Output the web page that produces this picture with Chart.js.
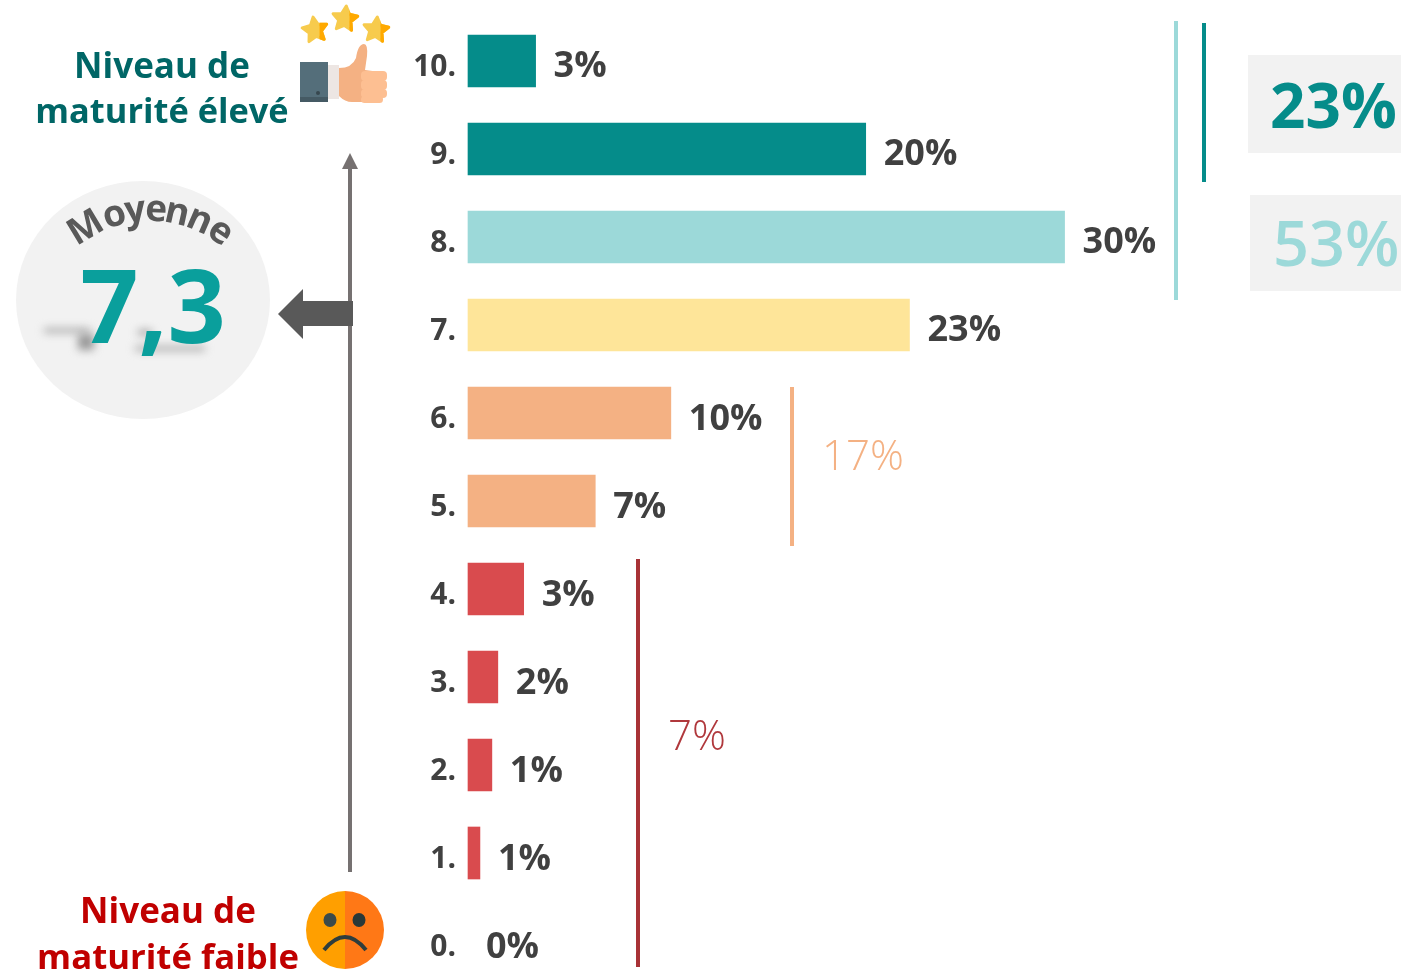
<!DOCTYPE html>
<html>
<head>
<meta charset="utf-8">
<title>Niveau de maturité</title>
<script src="https://cdn.jsdelivr.net/npm/chart.js@4"></script>
<style>
  html, body { margin: 0; padding: 0; background: #fff; }
  canvas { display: block; }
</style>
</head>
<body>
<canvas id="maturityChart" width="1401" height="971"></canvas>
<script>
const categories = ['10.', '9.', '8.', '7.', '6.', '5.', '4.', '3.', '2.', '1.', '0.'];
const barValues = [3.4, 20, 30, 22.2, 10.2, 6.4, 2.8, 1.5, 1.2, 0.6, 0];
const valueLabels = ['3%', '20%', '30%', '23%', '10%', '7%', '3%', '2%', '1%', '1%', '0%'];
const groupLabels = ['23%', '53%', '17%', '7%'];
const averageLabel = '7,3';

const TEAL = '#058c8a', AQUA = '#9cd9d9', YELLOW = '#fee599', ORANGE = '#f4b183', RED = '#d94b4e';
const FONT = '"Open Sans"';

function rect(ctx, color, x, y, w, h) {
  ctx.fillStyle = color;
  ctx.fillRect(x, y, w, h);
}

function text(ctx, str, x, y, font, color, align) {
  ctx.font = font;
  ctx.fillStyle = color;
  ctx.textAlign = align || 'left';
  ctx.textBaseline = 'alphabetic';
  ctx.fillText(str, x, y);
}

function poly(ctx, color, pts) {
  ctx.fillStyle = color;
  ctx.beginPath();
  pts.forEach((p, i) => i ? ctx.lineTo(p[0], p[1]) : ctx.moveTo(p[0], p[1]));
  ctx.closePath();
  ctx.fill();
}

function star(ctx, cx, cy, r, rot) {
  const pts = [];
  for (let i = 0; i < 10; i++) {
    const a = rot - Math.PI / 2 + i * Math.PI / 5;
    const d = i % 2 ? r * 0.5 : r;
    pts.push([cx + Math.cos(a) * d, cy + Math.sin(a) * d]);
  }
  ctx.lineJoin = 'round';
  ctx.lineWidth = 3;
  ctx.strokeStyle = '#f7cb4d';
  poly(ctx, '#f7cb4d', pts);
  ctx.stroke();
  // darker right side
  ctx.save();
  ctx.beginPath();
  ctx.rect(cx + r * 0.35, cy - r, r, r * 2);
  ctx.clip();
  ctx.strokeStyle = '#ffa900';
  poly(ctx, '#ffa900', pts);
  ctx.stroke();
  ctx.restore();
}

function drawThumb(ctx) {
  star(ctx, 315, 30, 13, -0.15);
  star(ctx, 345, 19, 13, 0.1);
  star(ctx, 376, 30, 13, 0.1);
  rect(ctx, '#546e7a', 300, 62, 28, 40);
  rect(ctx, '#455a64', 300, 97, 28, 5);
  ctx.fillStyle = '#37474f';
  ctx.beginPath();
  ctx.arc(318, 93, 2, 0, Math.PI * 2);
  ctx.fill();
  rect(ctx, '#ede6e3', 328, 65, 11, 34);
  ctx.fillStyle = '#f4b183';
  ctx.beginPath();
  ctx.moveTo(339, 68);
  ctx.quadraticCurveTo(352, 68, 356, 58);
  ctx.quadraticCurveTo(358, 44, 364, 44);
  ctx.quadraticCurveTo(368, 44, 367, 56);
  ctx.lineTo(365, 70);
  ctx.lineTo(380, 72);
  ctx.lineTo(380, 102);
  ctx.lineTo(352, 102);
  ctx.quadraticCurveTo(345, 102, 339, 96);
  ctx.closePath();
  ctx.fill();
  ctx.fillStyle = '#fdbf92';
  [[71, 10], [80, 10], [89, 9], [96, 7]].forEach(f => {
    ctx.beginPath();
    ctx.roundRect(361, f[0], 26 - (f[0] > 90 ? 4 : 0), f[1], 4);
    ctx.fill();
  });
}

function drawFace(ctx) {
  const cx = 345, cy = 930, r = 39;
  ctx.fillStyle = '#ff9f00';
  ctx.beginPath();
  ctx.arc(cx, cy, r, Math.PI / 2, Math.PI * 1.5);
  ctx.fill();
  ctx.fillStyle = '#ff7816';
  ctx.beginPath();
  ctx.arc(cx, cy, r, -Math.PI / 2, Math.PI / 2);
  ctx.fill();
  ctx.fillStyle = '#3b4a4a';
  ctx.beginPath();
  ctx.ellipse(cx - 15, cy - 10, 6.5, 7, 0, 0, Math.PI * 2);
  ctx.fill();
  ctx.fillStyle = '#2a3838';
  ctx.beginPath();
  ctx.ellipse(cx + 14, cy - 10, 6.5, 7, 0, 0, Math.PI * 2);
  ctx.fill();
  ctx.strokeStyle = '#2f3d3d';
  ctx.lineWidth = 4;
  ctx.beginPath();
  ctx.moveTo(cx - 21, cy + 20);
  ctx.quadraticCurveTo(cx, cy - 6, cx + 21, cy + 20);
  ctx.stroke();
}

function drawAverage(ctx) {
  ctx.fillStyle = '#f2f2f2';
  ctx.beginPath();
  ctx.ellipse(143, 300, 127, 119, 0, 0, Math.PI * 2);
  ctx.fill();

  // curved word
  const word = 'Moyenne';
  const angles = [-0.54, -0.29, -0.12, 0.05, 0.22, 0.41, 0.6];
  ctx.textAlign = 'center';
  ctx.textBaseline = 'alphabetic';
  ctx.font = 'bold 37px ' + FONT;
  ctx.fillStyle = '#595959';
  word.split('').forEach((ch, i) => {
    ctx.save();
    ctx.translate(150, 335);
    ctx.rotate(angles[i]);
    ctx.fillText(ch, 0, -114);
    ctx.restore();
  });

  // blurred streaks behind the number
  ctx.save();
  ctx.filter = 'blur(4px)';
  rect(ctx, '#aaaaaa', 44, 328, 46, 5);
  rect(ctx, '#999999', 78, 334, 16, 16);
  rect(ctx, '#aaaaaa', 135, 346, 70, 5);
  rect(ctx, '#999999', 138, 330, 14, 5);
  ctx.restore();

  text(ctx, averageLabel, 153, 343, 'bold 102px ' + FONT, '#0a9f9c', 'center');
}

function drawArrows(ctx) {
  rect(ctx, '#767171', 348, 168, 4, 704);
  poly(ctx, '#767171', [[350, 153], [358, 169], [342, 169]]);
  rect(ctx, '#595959', 303, 301, 50, 25);
  poly(ctx, '#595959', [[278, 314], [303, 289], [303, 339]]);
}

const decorations = {
  id: 'decorations',
  beforeDraw(chart) {
    const ctx = chart.ctx;
    ctx.save();
    rect(ctx, '#ffffff', 0, 0, chart.width, chart.height);
    ctx.restore();
  },
  afterDatasetsDraw(chart) {
    const ctx = chart.ctx;
    const meta = chart.getDatasetMeta(0);
    const x = chart.scales.x;
    ctx.save();

    // value labels at the end of each bar
    valueLabels.forEach((label, i) => {
      const bar = meta.data[i];
      const drift = i < 4 ? 0 : 1;
      text(ctx, label, x.getPixelForValue(barValues[i]) + 18, bar.y + 15.5 + drift, 'bold 36px ' + FONT, '#404040');
    });

    // group brackets
    rect(ctx, AQUA, 1174, 21, 4, 279);
    rect(ctx, TEAL, 1202, 23, 4, 159);
    rect(ctx, ORANGE, 790, 387, 4, 159);
    rect(ctx, '#a83236', 636, 559, 4, 408);

    // group totals
    rect(ctx, '#f2f2f2', 1248, 55, 153, 98);
    rect(ctx, '#f2f2f2', 1250, 195, 151, 96);
    text(ctx, groupLabels[0], 1270, 128, 'bold 62px ' + FONT, TEAL);
    text(ctx, groupLabels[1], 1273, 266, '600 63px ' + FONT, AQUA);
    text(ctx, groupLabels[2], 822, 470, '300 42px ' + FONT, ORANGE);
    text(ctx, groupLabels[3], 668, 750, '300 42px ' + FONT, '#b0383c');

    // headings
    text(ctx, 'Niveau de', 162, 78, 'bold 35px ' + FONT, '#006666', 'center');
    text(ctx, 'maturité élevé', 162, 123, 'bold 34.4px ' + FONT, '#006666', 'center');
    text(ctx, 'Niveau de', 168, 923, 'bold 35px ' + FONT, '#c00000', 'center');
    text(ctx, 'maturité faible', 168, 969, 'bold 34.7px ' + FONT, '#c00000', 'center');

    drawThumb(ctx);
    drawFace(ctx);
    drawAverage(ctx);
    drawArrows(ctx);
    ctx.restore();
  }
};

new Chart(document.getElementById('maturityChart').getContext('2d'), {
  type: 'bar',
  plugins: [decorations],
  data: {
    labels: categories,
    datasets: [{
      data: barValues,
      backgroundColor: barValues.map((v, i) => v ? [TEAL, TEAL, AQUA, YELLOW, ORANGE, ORANGE, RED, RED, RED, RED, RED][i] : 'transparent'),
      barThickness: 52,
      clip: false
    }]
  },
  options: {
    indexAxis: 'y',
    responsive: false,
    animation: false,
    layout: { padding: { top: 61, bottom: 30, right: 237 } },
    plugins: { legend: { display: false }, tooltip: { enabled: false }, title: { display: false } },
    scales: {
      x: { display: false, min: 0, max: 35 },
      y: {
        offset: false,
        afterFit(scale) { scale.width = 468; },
        border: { display: false },
        grid: { display: false },
        ticks: {
          color: '#404040',
          padding: 4,
          labelOffset: 6.5,
          autoSkip: false,
          font: { family: 'Open Sans', size: 30, weight: 'bold' }
        }
      }
    }
  }
});
</script>
</body>
</html>
